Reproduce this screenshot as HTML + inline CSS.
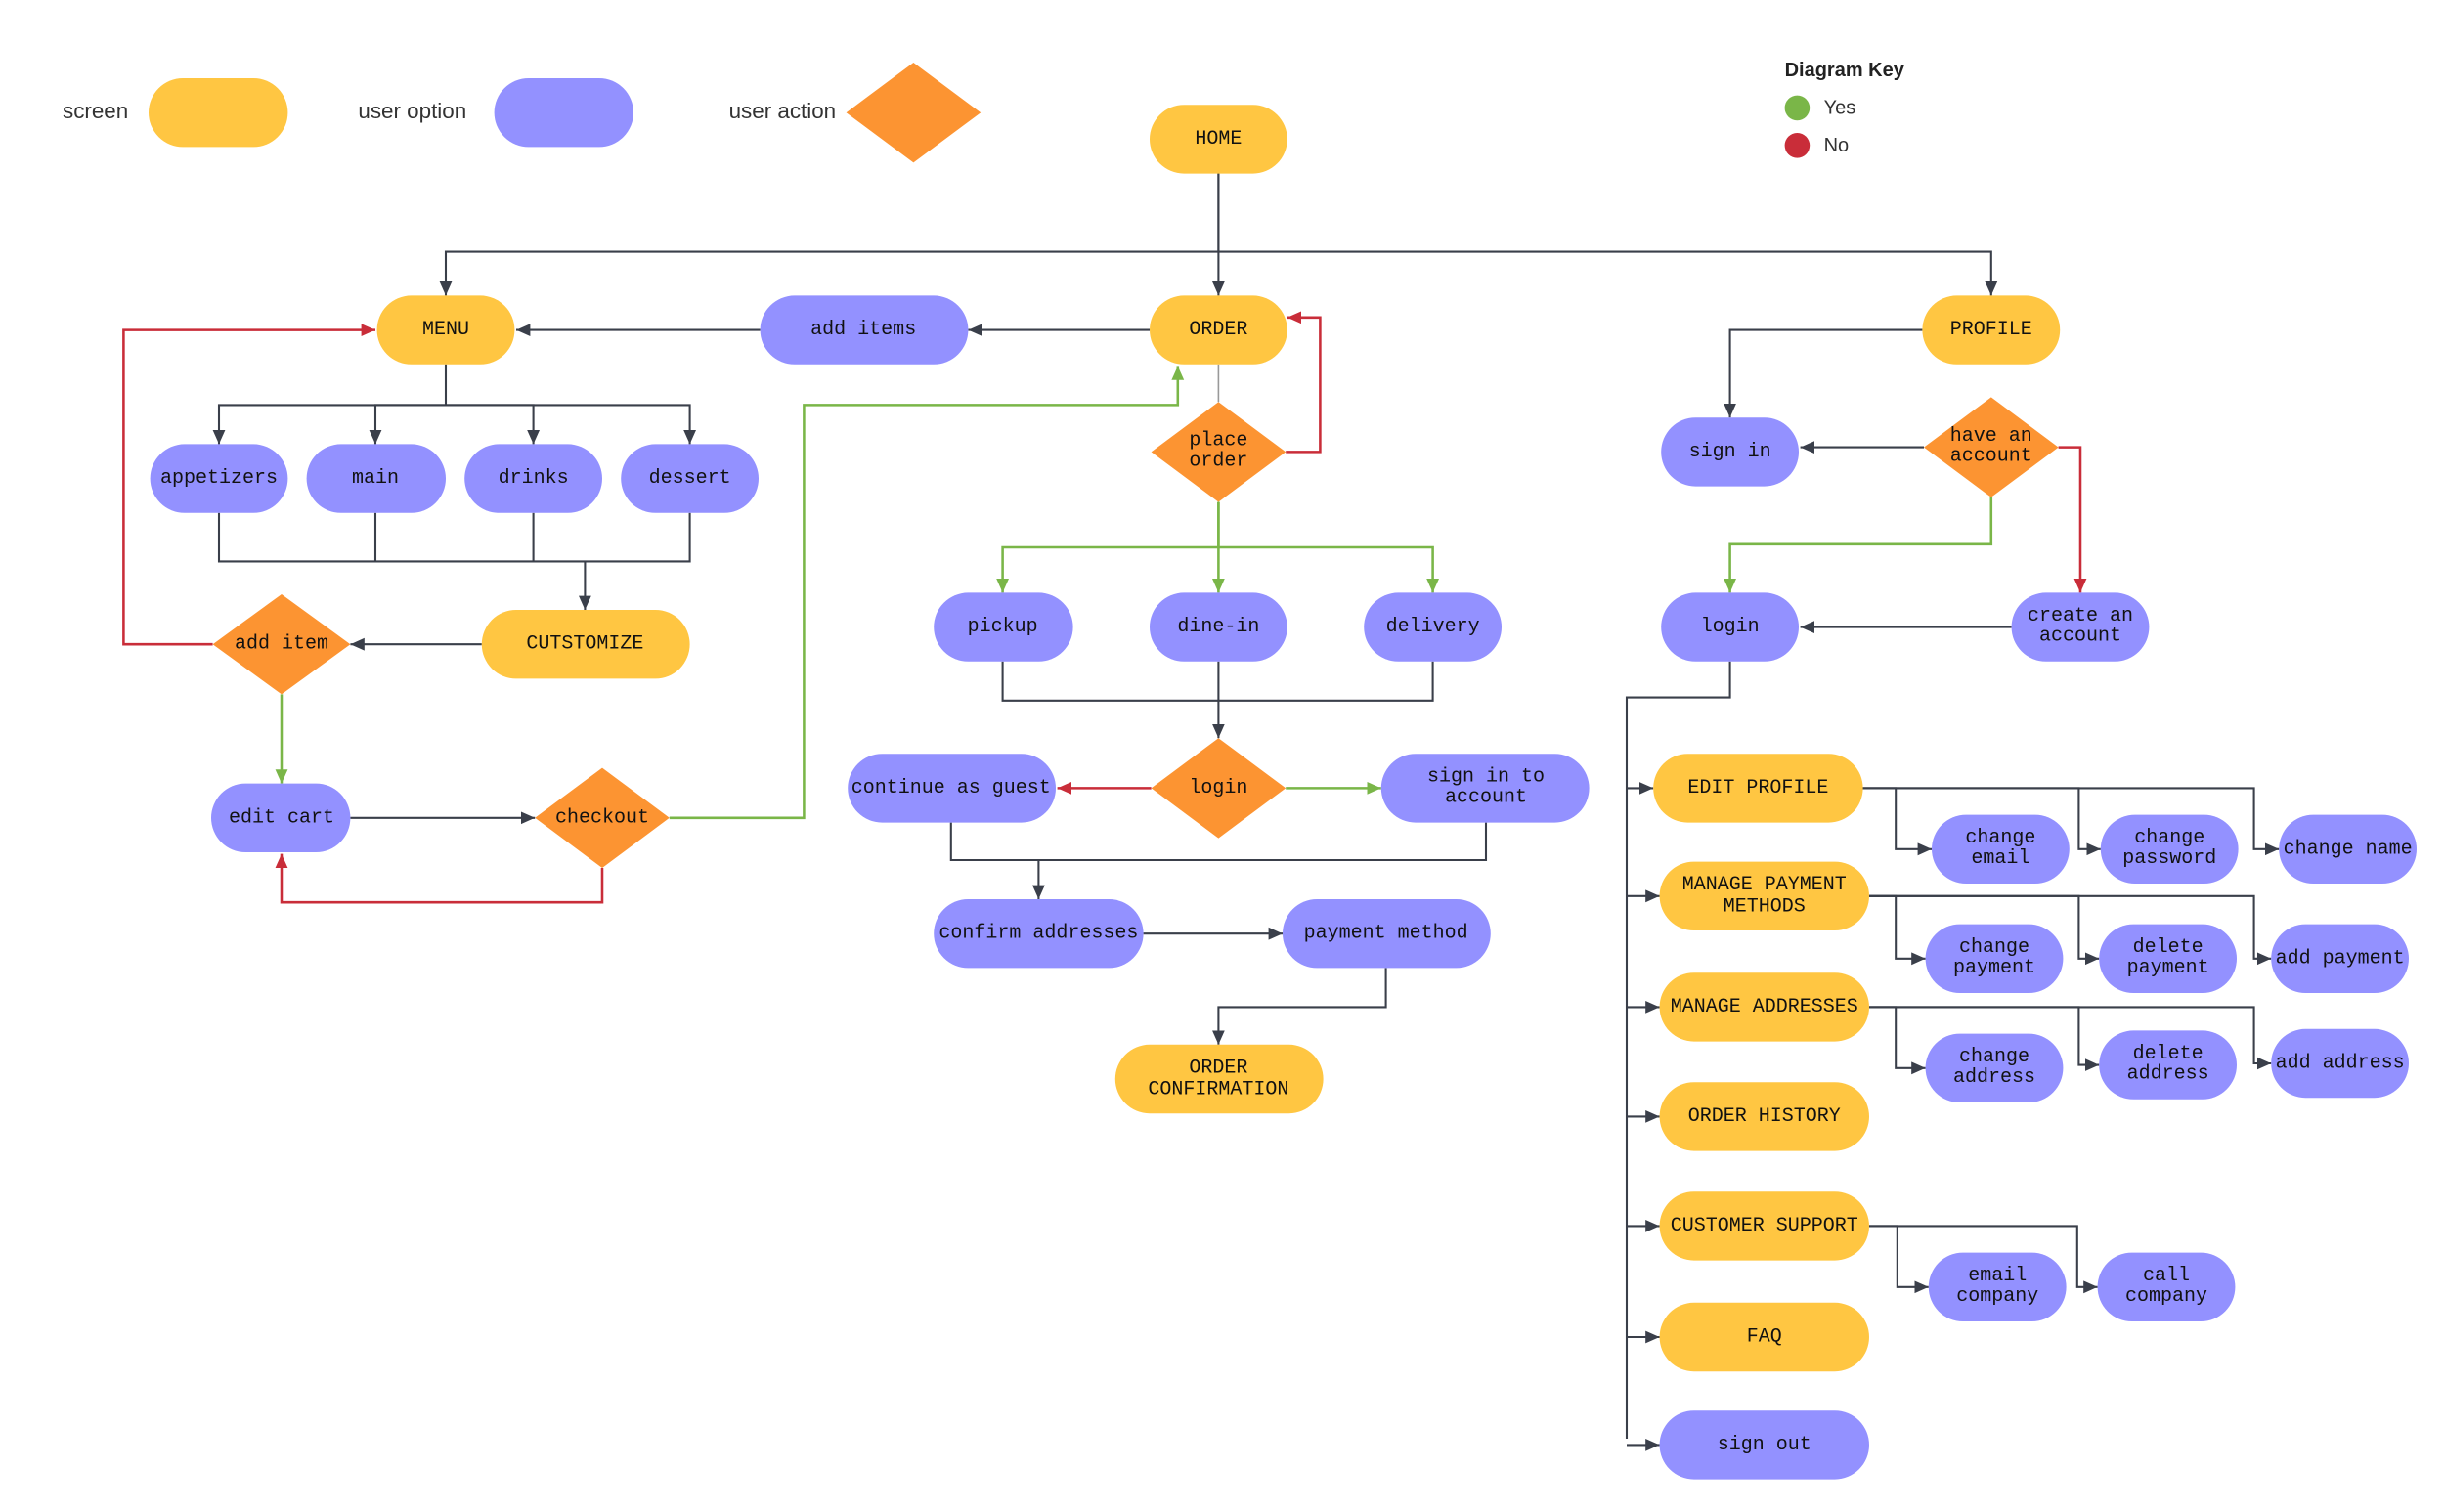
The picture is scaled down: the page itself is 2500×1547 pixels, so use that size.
<!DOCTYPE html>
<html><head><meta charset="utf-8"><style>
html,body{margin:0;padding:0;background:#fff;}
svg{display:block;}
.t{font-family:"Liberation Mono",monospace;font-size:12.5px;fill:#111;text-anchor:middle;dominant-baseline:central;}
.l{font-family:"Liberation Sans",sans-serif;font-size:14px;fill:#333;dominant-baseline:central;}
.k{stroke:#3a3f4a;stroke-width:1.3;fill:none;marker-end:url(#ak);}
.g{stroke:#7AB648;stroke-width:1.6;fill:none;marker-end:url(#ag);}
.r{stroke:#C92D39;stroke-width:1.6;fill:none;marker-end:url(#ar);}
.y{fill:#FFC642;} .p{fill:#9391FF;} .o{fill:#FC9432;}
</style></head><body>
<svg width="2500" height="1547" viewBox="0 0 1562.5 966.875" xmlns="http://www.w3.org/2000/svg">
<defs>
<marker id="ak" markerWidth="10" markerHeight="10" refX="9" refY="5" orient="auto" markerUnits="userSpaceOnUse"><path d="M0,1 L9,5 L0,9z" fill="#3a3f4a"/></marker>
<marker id="ag" markerWidth="10" markerHeight="10" refX="9" refY="5" orient="auto" markerUnits="userSpaceOnUse"><path d="M0,1 L9,5 L0,9z" fill="#7AB648"/></marker>
<marker id="ar" markerWidth="10" markerHeight="10" refX="9" refY="5" orient="auto" markerUnits="userSpaceOnUse"><path d="M0,1 L9,5 L0,9z" fill="#C92D39"/></marker>
</defs>

<!-- legend -->
<text class="l" x="40" y="71">screen</text>
<rect class="y" x="95" y="50" width="89" height="44" rx="22"/>
<text class="l" x="229" y="71">user option</text>
<rect class="p" x="316" y="50" width="89" height="44" rx="22"/>
<text class="l" x="466" y="71">user action</text>
<path class="o" d="M584,40 L627,72 L584,104 L541,72z"/>
<text class="l" x="1141" y="45" style="font-weight:bold;font-size:12.5px;fill:#222">Diagram Key</text>
<circle cx="1149" cy="69" r="8" fill="#7AB648"/><text class="l" x="1166" y="69" style="font-size:12.5px">Yes</text>
<circle cx="1149" cy="93" r="8" fill="#C92D39"/><text class="l" x="1166" y="93" style="font-size:12.5px">No</text>

<!-- edges -->
<path class="k" d="M779,111 V161 H285 V189"/>
<path class="k" d="M779,111 V189"/>
<path class="k" d="M779,161 H1273 V189"/>
<path class="k" d="M735,211 H619"/>
<path class="k" d="M486,211 H330"/>
<path d="M779,233 V257" stroke="#999" stroke-width="1" fill="none"/>
<path class="r" d="M822,289 H844 V203 H823"/>
<path class="k" d="M285,233 V259 H140 V284"/>
<path class="k" d="M285,259 H240 V284"/>
<path class="k" d="M285,259 H341 V284"/>
<path class="k" d="M285,259 H441 V284"/>
<path d="M140,328 V359 H441 V328 M240,328 V359 M341,328 V359" stroke="#3a3f4a" stroke-width="1.3" fill="none"/>
<path class="k" d="M374,359 V390"/>
<path class="k" d="M308,412 H224"/>
<path class="r" d="M136,412 H79 V211 H240"/>
<path class="g" d="M180,444 V501"/>
<path class="k" d="M224,523 H342"/>
<path class="r" d="M385,555 V577 H180 V546"/>
<path class="g" d="M428,523 H514 V259 H753 V234"/>
<path class="g" d="M779,321 V350 H641 V379"/>
<path class="g" d="M779,321 V379"/>
<path class="g" d="M779,350 H916 V379"/>
<path d="M641,423 V448 H916 V423 M779,423 V448" stroke="#3a3f4a" stroke-width="1.3" fill="none"/>
<path class="k" d="M779,448 V472"/>
<path class="r" d="M736,504 H676"/>
<path class="g" d="M822,504 H883"/>
<path d="M608,526 V550 H950 V526" stroke="#3a3f4a" stroke-width="1.3" fill="none"/>
<path class="k" d="M664,550 V575"/>
<path class="k" d="M731,597 H820"/>
<path class="k" d="M886,619 V644 H779 V668"/>
<path class="k" d="M1229,211 H1106 V267"/>
<path class="k" d="M1230,286 H1151"/>
<path class="r" d="M1316,286 H1330 V379"/>
<path class="g" d="M1273,318 V348 H1106 V379"/>
<path class="k" d="M1286,401 H1151"/>
<path d="M1106,423 V446 H1040 V920" stroke="#3a3f4a" stroke-width="1.3" fill="none"/>
<path class="k" d="M1040,504 H1057"/>
<path class="k" d="M1040,573 H1061"/>
<path class="k" d="M1040,644 H1061"/>
<path class="k" d="M1040,714 H1061"/>
<path class="k" d="M1040,784 H1061"/>
<path class="k" d="M1040,855 H1061"/>
<path class="k" d="M1040,924 H1061"/>
<path class="k" d="M1191,504 H1212 V543 H1235"/>
<path class="k" d="M1191,504 H1329 V543 H1343"/>
<path class="k" d="M1191,504 H1441 V543 H1457"/>
<path class="k" d="M1195,573 H1212 V613 H1231"/>
<path class="k" d="M1195,573 H1329 V613 H1342"/>
<path class="k" d="M1195,573 H1441 V613 H1452"/>
<path class="k" d="M1195,644 H1212 V683 H1231"/>
<path class="k" d="M1195,644 H1329 V681 H1342"/>
<path class="k" d="M1195,644 H1441 V680 H1452"/>
<path class="k" d="M1195,784 H1213 V823 H1233"/>
<path class="k" d="M1195,784 H1328 V823 H1341"/>

<!-- nodes -->
<rect class="y" x="735" y="67" width="88" height="44" rx="22"/><text class="t" x="779" y="89">HOME</text>
<rect class="y" x="241" y="189" width="88" height="44" rx="22"/><text class="t" x="285" y="211">MENU</text>
<rect class="p" x="486" y="189" width="133" height="44" rx="22"/><text class="t" x="552" y="211">add items</text>
<rect class="y" x="735" y="189" width="88" height="44" rx="22"/><text class="t" x="779" y="211">ORDER</text>
<rect class="y" x="1229" y="189" width="88" height="44" rx="22"/><text class="t" x="1273" y="211">PROFILE</text>
<path class="o" d="M779,257 L822,289 L779,321 L736,289z"/><text class="t" x="779" y="282">place</text><text class="t" x="779" y="295">order</text>
<rect class="p" x="96" y="284" width="88" height="44" rx="22"/><text class="t" x="140" y="306">appetizers</text>
<rect class="p" x="196" y="284" width="89" height="44" rx="22"/><text class="t" x="240" y="306">main</text>
<rect class="p" x="297" y="284" width="88" height="44" rx="22"/><text class="t" x="341" y="306">drinks</text>
<rect class="p" x="397" y="284" width="88" height="44" rx="22"/><text class="t" x="441" y="306">dessert</text>
<rect class="y" x="308" y="390" width="133" height="44" rx="22"/><text class="t" x="374" y="412">CUTSTOMIZE</text>
<path class="o" d="M180,380 L224,412 L180,444 L136,412z"/><text class="t" x="180" y="412">add item</text>
<rect class="p" x="135" y="501" width="89" height="44" rx="22"/><text class="t" x="180" y="523">edit cart</text>
<path class="o" d="M385,491 L428,523 L385,555 L342,523z"/><text class="t" x="385" y="523">checkout</text>
<rect class="p" x="597" y="379" width="89" height="44" rx="22"/><text class="t" x="641" y="401">pickup</text>
<rect class="p" x="735" y="379" width="88" height="44" rx="22"/><text class="t" x="779" y="401">dine-in</text>
<rect class="p" x="872" y="379" width="88" height="44" rx="22"/><text class="t" x="916" y="401">delivery</text>
<path class="o" d="M779,472 L822,504 L779,536 L736,504z"/><text class="t" x="779" y="504">login</text>
<rect class="p" x="542" y="482" width="133" height="44" rx="22"/><text class="t" x="608" y="504">continue as guest</text>
<rect class="p" x="883" y="482" width="133" height="44" rx="22"/><text class="t" x="950" y="497">sign in to</text><text class="t" x="950" y="510">account</text>
<rect class="p" x="597" y="575" width="134" height="44" rx="22"/><text class="t" x="664" y="597">confirm addresses</text>
<rect class="p" x="820" y="575" width="133" height="44" rx="22"/><text class="t" x="886" y="597">payment method</text>
<rect class="y" x="713" y="668" width="133" height="44" rx="22"/><text class="t" x="779" y="683">ORDER</text><text class="t" x="779" y="697">CONFIRMATION</text>
<rect class="p" x="1062" y="267" width="88" height="44" rx="22"/><text class="t" x="1106" y="289">sign in</text>
<path class="o" d="M1273,254 L1316,286 L1273,318 L1230,286z"/><text class="t" x="1273" y="279">have an</text><text class="t" x="1273" y="292">account</text>
<rect class="p" x="1062" y="379" width="88" height="44" rx="22"/><text class="t" x="1106" y="401">login</text>
<rect class="p" x="1286" y="379" width="88" height="44" rx="22"/><text class="t" x="1330" y="394">create an</text><text class="t" x="1330" y="407">account</text>
<rect class="y" x="1057" y="482" width="134" height="44" rx="22"/><text class="t" x="1124" y="504">EDIT PROFILE</text>
<rect class="y" x="1061" y="551" width="134" height="44" rx="22"/><text class="t" x="1128" y="566">MANAGE PAYMENT</text><text class="t" x="1128" y="580">METHODS</text>
<rect class="y" x="1061" y="622" width="134" height="44" rx="22"/><text class="t" x="1128" y="644">MANAGE ADDRESSES</text>
<rect class="y" x="1061" y="692" width="134" height="44" rx="22"/><text class="t" x="1128" y="714">ORDER HISTORY</text>
<rect class="y" x="1061" y="762" width="134" height="44" rx="22"/><text class="t" x="1128" y="784">CUSTOMER SUPPORT</text>
<rect class="y" x="1061" y="833" width="134" height="44" rx="22"/><text class="t" x="1128" y="855">FAQ</text>
<rect class="p" x="1061" y="902" width="134" height="44" rx="22"/><text class="t" x="1128" y="924">sign out</text>
<rect class="p" x="1235" y="521" width="88" height="44" rx="22"/><text class="t" x="1279" y="536">change</text><text class="t" x="1279" y="549">email</text>
<rect class="p" x="1343" y="521" width="88" height="44" rx="22"/><text class="t" x="1387" y="536">change</text><text class="t" x="1387" y="549">password</text>
<rect class="p" x="1457" y="521" width="88" height="44" rx="22"/><text class="t" x="1501" y="543">change name</text>
<rect class="p" x="1231" y="591" width="88" height="44" rx="22"/><text class="t" x="1275" y="606">change</text><text class="t" x="1275" y="619">payment</text>
<rect class="p" x="1342" y="591" width="88" height="44" rx="22"/><text class="t" x="1386" y="606">delete</text><text class="t" x="1386" y="619">payment</text>
<rect class="p" x="1452" y="591" width="88" height="44" rx="22"/><text class="t" x="1496" y="613">add payment</text>
<rect class="p" x="1231" y="661" width="88" height="44" rx="22"/><text class="t" x="1275" y="676">change</text><text class="t" x="1275" y="689">address</text>
<rect class="p" x="1342" y="659" width="88" height="44" rx="22"/><text class="t" x="1386" y="674">delete</text><text class="t" x="1386" y="687">address</text>
<rect class="p" x="1452" y="658" width="88" height="44" rx="22"/><text class="t" x="1496" y="680">add address</text>
<rect class="p" x="1233" y="801" width="88" height="44" rx="22"/><text class="t" x="1277" y="816">email</text><text class="t" x="1277" y="829">company</text>
<rect class="p" x="1341" y="801" width="88" height="44" rx="22"/><text class="t" x="1385" y="816">call</text><text class="t" x="1385" y="829">company</text>
</svg>
</body></html>
